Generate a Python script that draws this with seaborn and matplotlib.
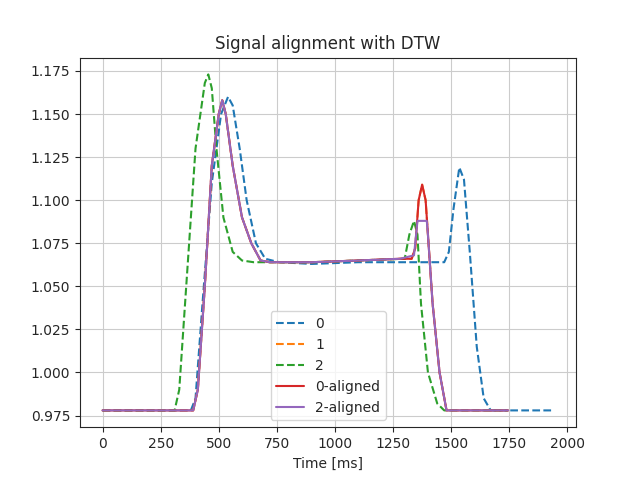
import numpy as np
import pandas as pd
import seaborn as sns
import matplotlib.pyplot as plt

# Breakpoints (time in ms, signal value)
t0 = [0, 380, 400, 430, 470, 510, 540, 560, 590, 620, 660, 700, 760, 900, 1100, 1300, 1470, 1490, 1510, 1535, 1555, 1580, 1610, 1640, 1670, 1940]
s0 = [0.978, 0.978, 0.985, 1.040, 1.110, 1.150, 1.160, 1.155, 1.130, 1.100, 1.075, 1.066, 1.064, 1.063, 1.064, 1.064, 1.064, 1.070, 1.095, 1.119, 1.112, 1.070, 1.015, 0.985, 0.978, 0.978]

t1 = [0, 390, 410, 440, 470, 500, 515, 530, 560, 600, 640, 680, 720, 900, 1100, 1280, 1330, 1345, 1360, 1375, 1390, 1400, 1420, 1450, 1480, 1500, 1745]
s1 = [0.978, 0.978, 0.990, 1.050, 1.120, 1.150, 1.158, 1.150, 1.120, 1.090, 1.075, 1.065, 1.064, 1.064, 1.065, 1.066, 1.066, 1.072, 1.100, 1.109, 1.100, 1.080, 1.040, 1.000, 0.978, 0.978, 0.978]

t2 = [0, 310, 330, 360, 400, 440, 455, 470, 490, 520, 560, 600, 650, 900, 1100, 1300, 1320, 1340, 1355, 1370, 1400, 1440, 1470, 1490, 1745]
s2 = [0.978, 0.978, 0.990, 1.050, 1.130, 1.168, 1.173, 1.165, 1.130, 1.090, 1.070, 1.065, 1.064, 1.064, 1.065, 1.066, 1.080, 1.088, 1.080, 1.040, 1.000, 0.982, 0.978, 0.978, 0.978]

t2a = [0, 390, 410, 440, 470, 500, 515, 530, 560, 600, 640, 680, 720, 900, 1100, 1280, 1340, 1355, 1395, 1400, 1420, 1450, 1480, 1500, 1745]
s2a = [0.978, 0.978, 0.990, 1.050, 1.120, 1.150, 1.158, 1.150, 1.120, 1.090, 1.075, 1.065, 1.064, 1.064, 1.065, 1.066, 1.068, 1.088, 1.088, 1.080, 1.040, 1.000, 0.978, 0.978, 0.978]

sns.set_style("ticks")
fig, ax = plt.subplots(figsize=(6.4, 4.8), dpi=100)

sns.lineplot(x=t0, y=s0, ax=ax, color="C0", linestyle="--", label="0")
sns.lineplot(x=t1, y=s1, ax=ax, color="C1", linestyle="--", label="1")
sns.lineplot(x=t2, y=s2, ax=ax, color="C2", linestyle="--", label="2")
sns.lineplot(x=t1, y=s1, ax=ax, color="C3", label="0-aligned")
sns.lineplot(x=t2a, y=s2a, ax=ax, color="C4", label="2-aligned")

ax.set_title("Signal alignment with DTW")
ax.set_xlabel("Time [ms]")
ax.set_xticks([0, 250, 500, 750, 1000, 1250, 1500, 1750, 2000])
ax.set_yticks(np.arange(0.975, 1.1751, 0.025))
ax.grid(True)
ax.legend(loc="lower center")
plt.savefig("out.png")
